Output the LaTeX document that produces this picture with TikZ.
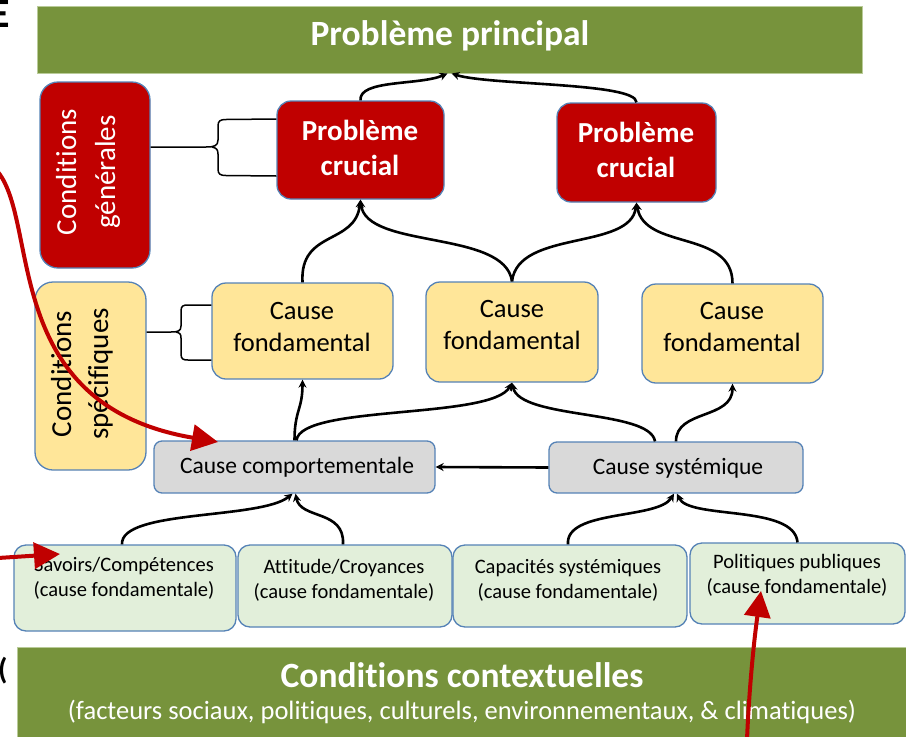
\documentclass[tikz,border=0pt]{standalone}
\usepackage{fontspec}
\setmainfont[Ligatures=NoCommon]{Carlito}
\usetikzlibrary{arrows.meta}

\definecolor{barGreen}{HTML}{77933C}
\definecolor{barEdge}{HTML}{B9CB98}
\definecolor{critRed}{HTML}{C00000}
\definecolor{condYellow}{HTML}{FFE699}
\definecolor{causeGray}{HTML}{D9D9D9}
\definecolor{rootGreen}{HTML}{E2EFDA}
\definecolor{edgeBlue}{HTML}{5582B6}

\newcommand{\fsz}[2]{\fontsize{#1}{#2}\selectfont}

\begin{document}
\begin{tikzpicture}[x=1pt,y=-1pt,
  bar/.style={fill=barGreen, draw=barEdge, line width=1pt, inner sep=0pt},
  box/.style={draw=edgeBlue, line width=1.3pt, rounded corners=14pt, inner sep=0pt},
  critbox/.style={box, fill=critRed},
  condbox/.style={box, fill=condYellow},
  graybox/.style={box, fill=causeGray, rounded corners=8pt},
  rootbox/.style={box, fill=rootGreen, rounded corners=12pt},
  wtitle/.style={text=white, font=\bfseries\fsz{35.5}{40}, inner sep=0pt},
  crittext/.style={text=white, align=center, font=\bfseries\fsz{29}{35}, inner sep=0pt},
  sidetext/.style={align=center, rotate=90, inner sep=0pt},
  fundtext/.style={align=center, font=\fsz{26.5}{32}, inner sep=0pt},
  graytext/.style={font=\fsz{23.5}{27}, inner sep=0pt},
  roottext/.style={align=center, font=\fsz{20.5}{24.5}, inner sep=0pt},
  conn/.style={line width=2.6pt, -{Stealth[length=8pt,width=8pt]}},
  bracket/.style={line width=1.5pt},
  redarrow/.style={draw=critRed, line width=4pt, -{Triangle[length=26pt,width=26pt]}}
]
\useasboundingbox (0,0) rectangle (906,737);

% cut-off glyphs at the left margin
\node[anchor=north east, inner sep=0pt, font=\bfseries\fsz{42}{42}] (cutE) at (10,0) {E};
\node[anchor=west, inner sep=0pt, font=\bfseries\fsz{30}{30}] (cutC) at (-2,671) {(};

% top and bottom bars
\node[bar, minimum width=825pt, minimum height=67pt] (pp) at (449.5,39.5) {};
\node[wtitle] (ppt) at (450,36) {Problème principal};
\node[bar, minimum width=891pt, minimum height=92pt] (ctx) at (462.5,693) {};
\node[wtitle] (ctxt) at (462,675) {Conditions contextuelles};
\node[text=white, font=\fsz{26.5}{30}, inner sep=0pt] (ctxs) at (462,712)
  {(facteurs sociaux, politiques, culturels, environnementaux, \& climatiques)};

% side conditions
\node[critbox, rounded corners=18pt, minimum width=110pt, minimum height=186pt] (cg) at (95,175) {};
\node[sidetext, text=white, font=\fsz{29}{39}] (cgt) at (88,172) {Conditions\\générales};
\node[condbox, rounded corners=18pt, minimum width=111pt, minimum height=188pt] (cs) at (90.5,376) {};
\node[sidetext, font=\fsz{29}{37}] (cst) at (82,374) {Conditions\\spécifiques};

% crucial problems
\node[critbox, minimum width=167pt, minimum height=98pt] (pc1) at (360.5,150) {};
\node[crittext] (pc1t) at (360,148) {Problème\\crucial};
\node[critbox, minimum width=159pt, minimum height=99pt] (pc2) at (636.5,152.5) {};
\node[crittext] (pc2t) at (636,150) {Problème\\crucial};

% fundamental causes
\node[condbox, minimum width=181pt, minimum height=96pt] (cf1) at (302.5,331) {};
\node[fundtext] (cf1t) at (302,327) {Cause\\fondamental};
\node[condbox, minimum width=172pt, minimum height=100pt] (cf2) at (512,332) {};
\node[fundtext] (cf2t) at (512,325) {Cause\\fondamental};
\node[condbox, minimum width=181pt, minimum height=99pt] (cf3) at (732.5,333.5) {};
\node[fundtext] (cf3t) at (732,327) {Cause\\fondamental};

% behavioural and systemic causes
\node[graybox, minimum width=281pt, minimum height=52pt] (cc) at (294.5,467) {};
\node[graytext] (cct) at (297,467) {Cause comportementale};
\node[graybox, minimum width=254pt, minimum height=51pt] (csy) at (676,467.5) {};
\node[graytext] (csyt) at (678,468) {Cause systémique};

% root causes
\node[rootbox, minimum width=222pt, minimum height=86pt] (sv) at (125,588) {};
\node[roottext] (svt) at (124,578.5) {Savoirs/Compétences\\(cause fondamentale)};
\node[rootbox, minimum width=214pt, minimum height=82pt] (at) at (345,586) {};
\node[roottext] (att) at (344,580.5) {Attitude/Croyances\\(cause fondamentale)};
\node[rootbox, minimum width=234pt, minimum height=82pt] (cap) at (570,586) {};
\node[roottext] (capt) at (568,580.5) {Capacités systémiques\\(cause fondamentale)};
\node[rootbox, minimum width=215pt, minimum height=81pt] (pol) at (797.5,583.5) {};
\node[roottext] (polt) at (797,575.5) {Politiques publiques\\(cause fondamentale)};

% brackets tying conditions to their boxes
\draw[bracket] (cg.east |- 0,147) -- (206,147)
  .. controls (214,147) and (218,146) .. (218,140) -- (218,126)
  .. controls (218,121) and (220,119.5) .. (226,119.5) -- (pc1.west |- 0,119);
\draw[bracket] (212,147) .. controls (216,148) and (218,149) .. (218,154) -- (218,169)
  .. controls (218,174) and (220,175.5) .. (226,175.5) -- (pc1.west |- 0,176);
\draw[bracket] (cs.east |- 0,332) -- (171,332)
  .. controls (178,332) and (181,331) .. (181,326) -- (181,311)
  .. controls (181,306) and (183,305) .. (188,305) -- (cf1.west |- 0,305);
\draw[bracket] (176,332) .. controls (180,333) and (181,334) .. (181,338) -- (181,354)
  .. controls (181,359) and (183,360) .. (188,360) -- (cf1.west |- 0,360);

% causal links
\draw[conn] (pc1.north) .. controls +(-2,-21) and +(-28,12) .. ([xshift=-2pt]pp.south);
\draw[conn] (pc2.north) .. controls +(0,-20) and +(38,12) .. ([xshift=2pt]pp.south);
\draw[conn] (cf1.north) .. controls +(-3,-53) and +(-5,46) .. (pc1.south);
\draw[conn] (cf2.north) .. controls +(-7,-52) and +(5,50) .. (pc1.south);
\draw[conn] (cf2.north) .. controls +(6,-52) and +(-6,48) .. (pc2.south);
\draw[conn] (cf3.north) .. controls +(0,-54) and +(8,48) .. (pc2.south);
\draw[conn] (cc.north) .. controls +(0,-30) and +(0,30) .. (cf1.south);
\draw[conn] ([xshift=2pt]cc.north) .. controls +(4,-36) and +(-20,37) .. (cf2.south);
\draw[conn] ([xshift=-21pt]csy.north) .. controls +(-5,-32) and +(8,37) .. (cf2.south);
\draw[conn] (csy.north) .. controls +(0,-32) and +(0,36) .. (cf3.south);
\draw[conn] (csy.west) -- (cc.east);
\draw[conn] ([xshift=-3pt]sv.north) .. controls +(-2,-35) and +(-32,26) .. ([xshift=-2pt]cc.south);
\draw[conn] ([xshift=-2pt]at.north) .. controls +(2,-35) and +(5,26) .. ([xshift=1pt]cc.south);
\draw[conn] ([xshift=-2pt]cap.north) .. controls +(-3,-35) and +(-16,26) .. ([xshift=-2pt]csy.south);
\draw[conn] (pol.north) .. controls +(-3,-38) and +(12,26) .. ([xshift=1pt]csy.south);

% red pointers
\coordinate (r1s) at (-2,172);
\coordinate (r1e) at (218,442);
\coordinate (r2s) at (-2,558);
\coordinate (r2e) at (60,554);
\coordinate (r3s) at (747,740);
\coordinate (r3e) at (761,591);
\draw[redarrow] (r1s) .. controls (40,225) and (0,405) .. (r1e);
\draw[redarrow] (r2s) -- (r2e);
\draw[redarrow] (r3s) .. controls (749,690) and (754,640) .. (r3e);
\end{tikzpicture}
\end{document}
